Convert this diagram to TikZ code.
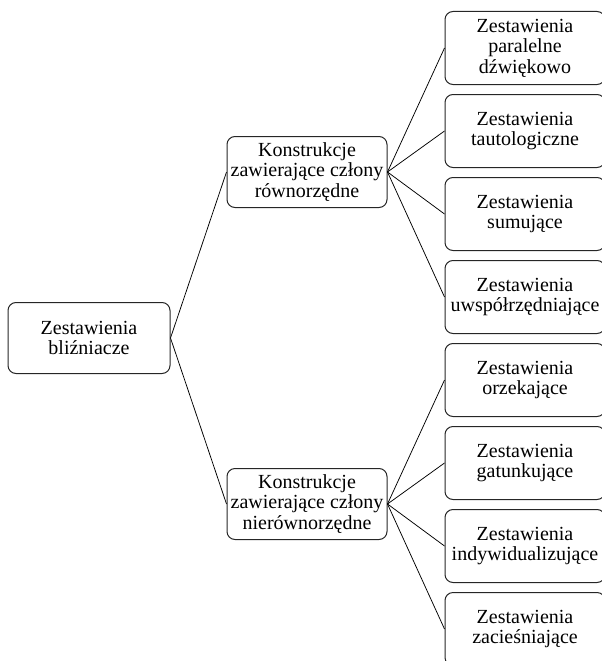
\documentclass[tikz,border=0pt]{standalone}
\usepackage{fontspec}
\setmainfont{Liberation Serif}
\usetikzlibrary{calc}
\tikzstyle{box}=[rectangle, rounded corners=8pt, draw=black!85, line width=1pt, minimum width=160pt, minimum height=72pt, inner sep=0pt, align=center, font=\fontsize{20}{20.5}\selectfont]
\tikzstyle{link}=[line width=0.75pt, draw=black]

\begin{document}
\begin{tikzpicture}[x=1pt,y=-1pt]
	\useasboundingbox (0,0) rectangle (602,661);
	\clip (0,0) rectangle (602,661);

	\node[box, minimum width=162pt, minimum height=71pt](root) at (89,338){Zestawienia\\bliźniacze};
	\node[box, minimum height=71pt](upper) at (307,172){Konstrukcje\\zawierające człony\\równorzędne};
	\node[box, minimum height=71pt](lower) at (307,504){Konstrukcje\\zawierające człony\\nierównorzędne};

	\foreach \i/\txt in {1/{Zestawienia\\paralelne\\dźwiękowo}, 2/{Zestawienia\\tautologiczne}, 3/{Zestawienia\\sumujące}, 4/{Zestawienia\\uwspółrzędniające}, 5/{Zestawienia\\orzekające}, 6/{Zestawienia\\gatunkujące}, 7/{Zestawienia\\indywidualizujące}, 8/{Zestawienia\\zacieśniające}}
		\node[box, minimum height=73pt](leaf\i) at (525,{48+83*(\i-1)}){\txt};

	\draw[link] (root.east) -- (upper.west);
	\draw[link] (root.east) -- (lower.west);
	\foreach \i in {1,...,4}
		\draw[link] (upper.east) -- (leaf\i.west);
	\foreach \i in {5,...,8}
		\draw[link] (lower.east) -- (leaf\i.west);

\end{tikzpicture}
\end{document}
